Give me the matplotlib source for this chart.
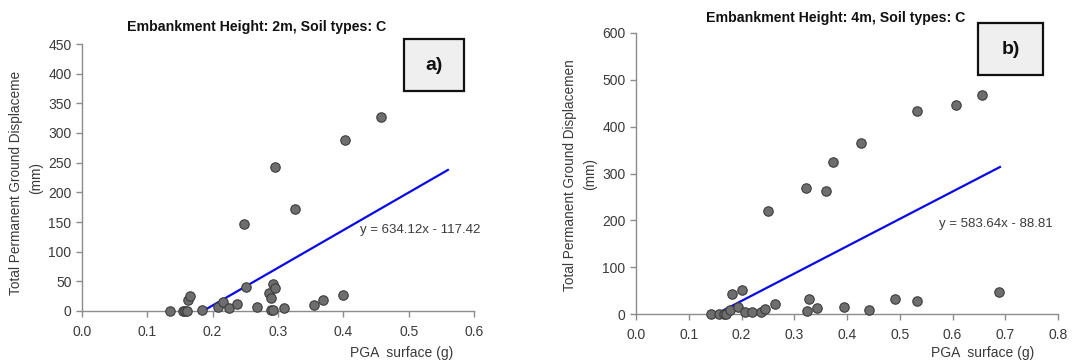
"""Permanent ground displacement vs PGA for 2m and 4m embankments, soil type C."""

import matplotlib

matplotlib.use("Agg")
import matplotlib.pyplot as plt
import numpy as np
from matplotlib.patches import Rectangle
from matplotlib.transforms import Bbox, TransformedBbox

plt.rcParams["font.family"] = ["Liberation Sans", "DejaVu Sans"]

# panel a) embankment 2m
pga_2m = [0.134, 0.154, 0.158, 0.161, 0.162, 0.166, 0.183, 0.208, 0.216, 0.225,
          0.237, 0.248, 0.251, 0.268, 0.286, 0.289, 0.290, 0.293, 0.293, 0.295,
          0.296, 0.309, 0.326, 0.355, 0.369, 0.399, 0.403, 0.457]
disp_2m = [0, 0, 0, 0, 18, 26, 2, 7, 15, 4.5,
           11, 147, 41, 6, 31, 22, 2, 2, 45, 38,
           243, 4.5, 172, 9.5, 18.6, 27, 289, 327]
fit_2m = (634.12, -117.42)
fit_2m_x = [0.134, 0.56]

# panel b) embankment 4m
pga_4m = [0.143, 0.157, 0.166, 0.171, 0.178, 0.182, 0.193, 0.201, 0.206, 0.219,
          0.237, 0.245, 0.250, 0.263, 0.322, 0.324, 0.328, 0.344, 0.360, 0.374,
          0.395, 0.426, 0.441, 0.491, 0.532, 0.532, 0.607, 0.655, 0.688]
disp_4m = [0, 0, 0, 0, 8.5, 42, 14, 51, 5, 5,
           5, 10, 219, 21, 270, 7, 31, 12, 263, 325,
           15, 366, 9, 33, 433, 28, 447, 467, 46]
fit_4m = (583.64, -88.81)
fit_4m_x = [0.143, 0.69]

W, H = 1075, 360
GRAY_AX = "#8c8c8c"
TXT = "#3a3a3a"


def px_rect(x0, x1, y_bottom, y_top):
    return [x0 / W, 1 - y_bottom / H, (x1 - x0) / W, (y_bottom - y_top) / H]


def draw_panel(fig, rect, pga, disp, fit, fit_x, xmax, ymax, ystep, title,
               title_xy, tag, tag_box, eq_xy, ylab_x, ylab_top, xlab_x):
    ax = fig.add_axes(rect)
    slope, icpt = fit
    xs = np.array(fit_x)
    ax.plot(xs, slope * xs + icpt, color="#0a0ae6", lw=1.6, zorder=2)
    ax.scatter(pga, disp, s=46, c="#6e6e6e", edgecolors="#3c3c3c",
               linewidths=0.8, zorder=3, clip_on=False)
    ax.set_xlim(0, xmax)
    ax.set_ylim(0, ymax)
    ax.set_xticks(np.arange(0, xmax + 0.001, 0.1))
    ax.set_xticklabels([f"{v:.1f}" for v in np.arange(0, xmax + 0.001, 0.1)])
    ax.set_yticks(np.arange(0, ymax + 1, ystep))
    for side in ("top", "right"):
        ax.spines[side].set_visible(False)
    for side in ("left", "bottom"):
        ax.spines[side].set_color(GRAY_AX)
        ax.spines[side].set_linewidth(1.0)
    ax.tick_params(colors=GRAY_AX, labelcolor=TXT, labelsize=10, length=4,
                   width=1.0, direction="out")
    ax.tick_params(axis="x", pad=6)
    ax.text(eq_xy[0], eq_xy[1], f"y = {slope:.2f}x - {abs(icpt):.2f}",
            fontsize=9.5, color=TXT, va="center")

    fig.text(title_xy[0] / W, 1 - title_xy[1] / H, title, ha="center",
             va="center", fontsize=10.2, fontweight="bold", color="#111111")
    x0, y0, x1, y1 = tag_box
    fig.patches.append(Rectangle((x0 / W, 1 - y1 / H), (x1 - x0) / W,
                                 (y1 - y0) / H, transform=fig.transFigure,
                                 facecolor="#efefef", edgecolor="#111111",
                                 lw=1.6))
    fig.text((x0 + x1) / 2 / W, 1 - (y0 + y1) / 2 / H, tag, ha="center",
             va="center", fontsize=14, fontweight="bold", color="#111111")

    ylab = fig.text(ylab_x / W, rect[1] + rect[3] / 2,
                    "Total Permanent Ground Displacement\n(mm)",
                    rotation=90, ha="center", va="center",
                    multialignment="center", fontsize=9.8, color=TXT,
                    linespacing=1.5)
    clip = Bbox.from_extents(0, 0, 1, 1 - ylab_top / H)
    ylab.set_clip_box(TransformedBbox(clip, fig.transFigure))
    ylab.set_clip_on(True)

    fig.text(xlab_x / W, 1 - 353 / H, "PGA  surface (g)", ha="center",
             va="center", fontsize=10, color=TXT)
    return ax


fig = plt.figure(figsize=(W / 100, H / 100), dpi=100)

draw_panel(fig, px_rect(82, 474, 311, 44), pga_2m, disp_2m, fit_2m, fit_2m_x,
           0.6, 450, 50, "Embankment Height: 2m, Soil types: C", (257, 27),
           "a)", (404, 39, 464, 91), (0.425, 137), 26, 72, 402)

draw_panel(fig, px_rect(636, 1058, 314, 33), pga_4m, disp_4m, fit_4m, fit_4m_x,
           0.8, 600, 100, "Embankment Height: 4m, Soil types: C", (836, 18),
           "b)", (978, 23, 1043, 75), (0.575, 192), 580, 60, 983)

fig.savefig("out.png", dpi=100)
